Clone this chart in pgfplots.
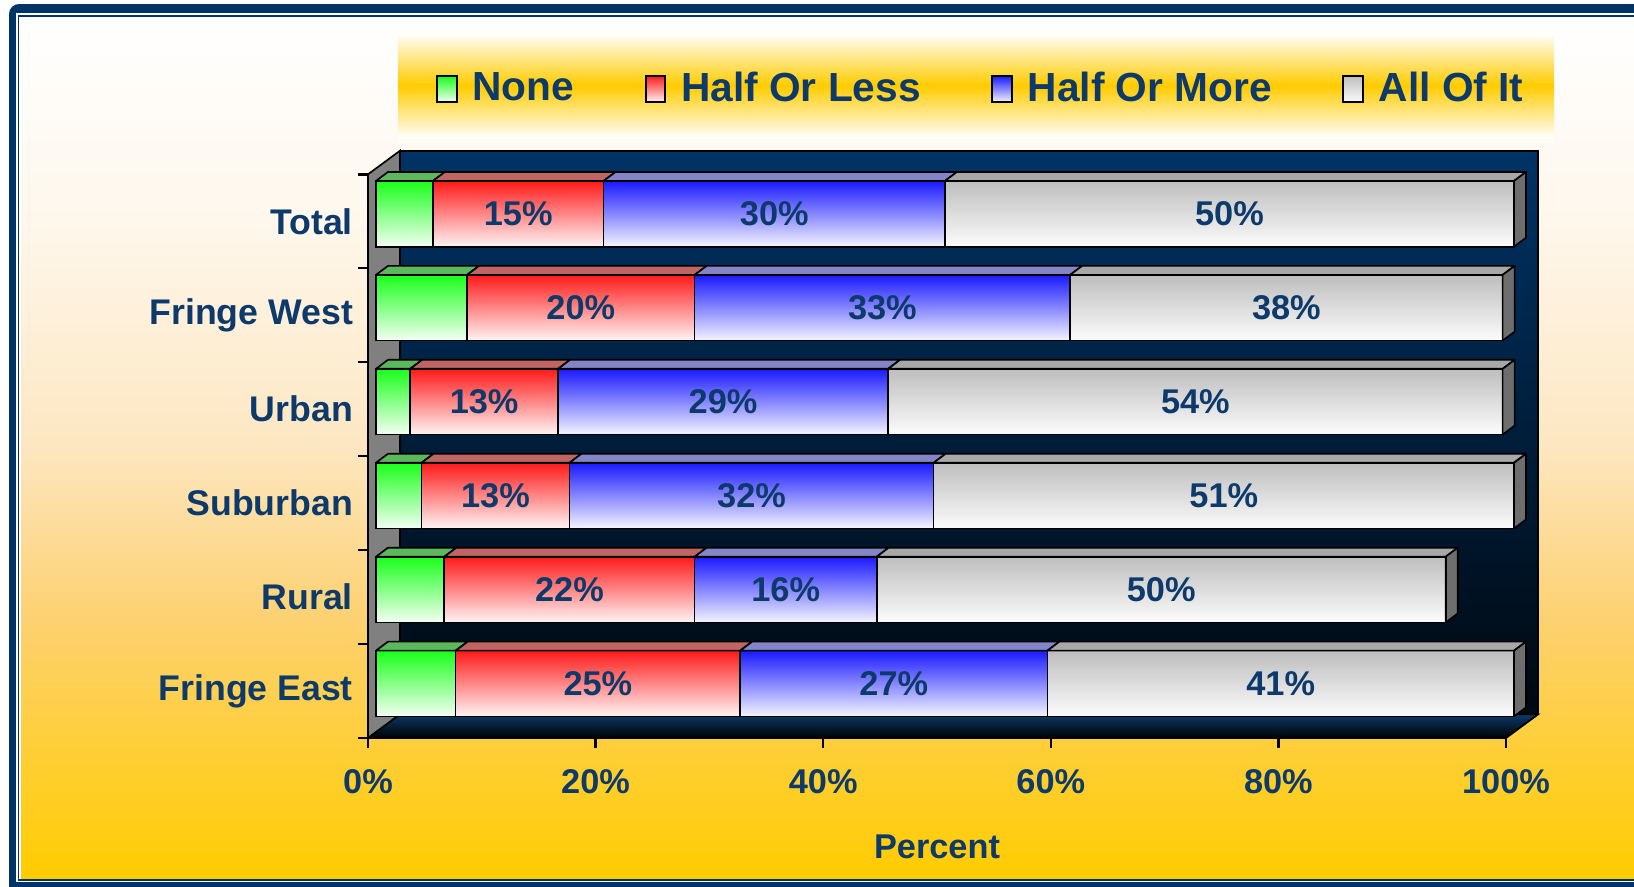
\documentclass[border=0pt]{standalone}
\usepackage{fontspec}
\setmainfont{Liberation Sans}
\usepackage{pgfplots}
\usepackage{pgfplotstable}
\usetikzlibrary{fadings}
\pgfplotsset{compat=1.18}

\definecolor{navy}{HTML}{003366}
\definecolor{navymid}{HTML}{00264D}
\definecolor{navylow}{HTML}{00080F}
\definecolor{floortop}{HTML}{0B3A6A}
\definecolor{txt}{HTML}{0D3A6B}
\definecolor{gold}{HTML}{FFCC00}
\definecolor{bgA}{HTML}{FEF7EC}
\definecolor{bgB}{HTML}{FDE7C2}
\definecolor{bgC}{HTML}{FDD170}
\definecolor{wallgray}{HTML}{808080}
\definecolor{cnone}{HTML}{1AFF1A}
\definecolor{cless}{HTML}{FF1A1A}
\definecolor{cmore}{HTML}{1A1AFF}
\definecolor{call}{HTML}{BEBEBE}
\definecolor{tnone}{HTML}{5CB85C}
\definecolor{tless}{HTML}{C06464}
\definecolor{tmore}{HTML}{8484C8}
\definecolor{tall}{HTML}{A8A8A8}
\definecolor{tside}{HTML}{6E6E6E}

\tikzfading[name=barfade, top color=transparent!100, bottom color=transparent!4]

% rows bottom to top: Fringe East, Rural, Suburban, Urban, Fringe West, Total
\pgfplotstableread{
pos none less more all
0   7    25   27   41
1   6    22   16   50
2   4    13   32   51
3   3    13   29   54
4   8    20   33   38
5   5    15   30   50
}\datatable

\newcommand{\lab}{\bfseries\fontsize{10.3}{12}\selectfont}
\def\dx{1.0545}
\def\dy{0.0958}
\def\hb{0.35}

\pgfplotsset{
  geom/.style={scale only axis, width=341.4pt, height=169.1pt,
    xmin=0, xmax=100, ymin=-0.5, ymax=5.5, anchor=south west},
  face/.style={draw=black, line width=0.5pt, line join=round, mark=none},
  limg/.style={legend image code/.code={\draw[line width=0.6pt, top color=#1, bottom color=#1!5!white] (0pt,-3.9pt) rectangle (5.8pt,3.9pt);}},
  lbl/.style={nodes near coords={\pgfmathprintnumber[assume math mode=true]{\pgfplotspointmeta}\%}},
}

\begin{document}
\begin{tikzpicture}
\begin{scope}[x=0.3pt, y=-0.3pt]
\useasboundingbox (0,0) rectangle (1634,886);
\fill[white] (0,0) rectangle (1634,886);
\fill[navy, rounded corners=3pt] (9,4) rectangle (1660,900);
\fill[white] (16,13) rectangle (1660,882);
\draw[navy, line width=0.5pt] (18.5,16) rectangle (1660,880);
\shade[top color=white, bottom color=bgA] (21,19) rectangle (1634,222);
\shade[top color=bgA, bottom color=bgB] (21,221) rectangle (1634,444);
\shade[top color=bgB, bottom color=bgC] (21,443) rectangle (1634,621);
\shade[top color=bgC, bottom color=gold] (21,620) rectangle (1634,878);
% legend band
\shade[top color=white, bottom color=white, middle color=gold] (398,33) rectangle (1554,138);
% walls and floor
\shade[top color=navy, middle color=navymid, bottom color=navylow, draw=black, line width=0.5pt]
  (400,150.7) rectangle (1538,714.4);
\filldraw[fill=wallgray, draw=black, line width=0.5pt]
  (368,174.3) -- (400,150.7) -- (400,714.4) -- (368,738) -- cycle;
\shade[top color=floortop, bottom color=black, draw=black, line width=0.5pt]
  (368,738) -- (1506,738) -- (1538,714.4) -- (400,714.4) -- cycle;
\end{scope}

% front faces of the bars, solid colour
\begin{axis}[geom, at={(112.8pt,-219.15pt)}, hide axis, clip=false,
  xbar stacked, bar width=0.70]
\addplot+[fill=cnone, draw=none] table[x=none, y=pos] {\datatable};
\addplot+[fill=cless, draw=none] table[x=less, y=pos] {\datatable};
\addplot+[fill=cmore, draw=none] table[x=more, y=pos] {\datatable};
\addplot+[fill=call, draw=none] table[x=all, y=pos] {\datatable};
\end{axis}

% top and side faces, and the fade to white on each front
\begin{axis}[geom, at={(112.8pt,-219.15pt)}, hide axis, clip=false]
\pgfplotsinvokeforeach{0,...,5}{%
  \pgfplotstablegetelem{#1}{none}\of\datatable \pgfmathsetmacro\ca{\pgfplotsretval}%
  \pgfplotstablegetelem{#1}{less}\of\datatable \pgfmathsetmacro\cb{\ca+\pgfplotsretval}%
  \pgfplotstablegetelem{#1}{more}\of\datatable \pgfmathsetmacro\cc{\cb+\pgfplotsretval}%
  \pgfplotstablegetelem{#1}{all}\of\datatable \pgfmathsetmacro\cd{\cc+\pgfplotsretval}%
  \pgfmathsetmacro\yf{#1+\hb}\pgfmathsetmacro\yk{#1+\hb+\dy}%
  \pgfmathsetmacro\yl{#1-\hb}\pgfmathsetmacro\ylk{#1-\hb+\dy}%
  \pgfmathsetmacro\xo{\dx}\pgfmathsetmacro\xa{\ca+\dx}%
  \pgfmathsetmacro\xb{\cb+\dx}\pgfmathsetmacro\xc{\cc+\dx}\pgfmathsetmacro\xd{\cd+\dx}%
  \edef\tmp{%
    \noexpand\addplot[draw=none, fill=white, path fading=barfade] coordinates {(0,\yl) (\cd,\yl) (\cd,\yf) (0,\yf) (0,\yl)};
    \noexpand\addplot[face, fill=tnone] coordinates {(0,\yf) (\ca,\yf) (\xa,\yk) (\xo,\yk) (0,\yf)};
    \noexpand\addplot[face, fill=tless] coordinates {(\ca,\yf) (\cb,\yf) (\xb,\yk) (\xa,\yk) (\ca,\yf)};
    \noexpand\addplot[face, fill=tmore] coordinates {(\cb,\yf) (\cc,\yf) (\xc,\yk) (\xb,\yk) (\cb,\yf)};
    \noexpand\addplot[face, fill=tall] coordinates {(\cc,\yf) (\cd,\yf) (\xd,\yk) (\xc,\yk) (\cc,\yf)};
    \noexpand\addplot[face, fill=tside] coordinates {(\cd,\yl) (\cd,\yf) (\xd,\yk) (\xd,\ylk) (\cd,\yl)};
  }\tmp
}
\end{axis}

% outlines, value labels and legend
\begin{axis}[geom, at={(112.8pt,-219.15pt)}, hide axis, clip=false,
  xbar stacked, bar width=0.70,
  point meta=explicit,
  every node near coord/.append style={font=\lab, text=txt, anchor=center},
  legend columns=4,
  legend style={at={(axis description cs:0.5335,1.138)}, anchor=center, draw=none, fill=none,
    font=\bfseries\fontsize{12.2}{14}\selectfont, text=txt,
    /tikz/every odd column/.append style={column sep=2.5pt},
    /tikz/every even column/.append style={column sep=19.2pt}},
]
\addplot+[fill=none, draw=black, line width=0.5pt, limg=cnone] table[x=none, y=pos, meta=none] {\datatable};
\addplot+[fill=none, draw=black, line width=0.5pt, limg=cless, lbl] table[x=less, y=pos, meta=less] {\datatable};
\addplot+[fill=none, draw=black, line width=0.5pt, limg=cmore, lbl] table[x=more, y=pos, meta=more] {\datatable};
\addplot+[fill=none, draw=black, line width=0.5pt, limg=call, lbl] table[x=all, y=pos, meta=all] {\datatable};
\legend{None, Half Or Less, Half Or More, All Of It}
\end{axis}

% ticks, tick labels and axis title on the front edges
\begin{axis}[geom, at={(110.4pt,-221.4pt)},
  axis x line*=bottom, axis y line*=left,
  axis line style={line width=0.7pt},
  tick align=outside, major tick length=3pt,
  tick style={black, line width=0.7pt},
  xtick={0,20,...,100}, xticklabels={0\%,20\%,40\%,60\%,80\%,100\%},
  ytick={-0.5,0.5,...,5.5}, yticklabels={},
  extra y ticks={0,1,2,3,4,5},
  extra y tick labels={Fringe East,Rural,Suburban,Urban,Fringe West,Total},
  extra y tick style={major tick length=0pt, yticklabel style={font=\bfseries\fontsize{10.7}{12}\selectfont, xshift=-1pt}},
  ticklabel style={font=\lab, text=txt},
  xticklabel style={yshift=-3pt},
  xlabel={Percent},
  xlabel style={font=\lab, text=txt, yshift=-5.3pt},
]
\end{axis}
\end{tikzpicture}
\end{document}
